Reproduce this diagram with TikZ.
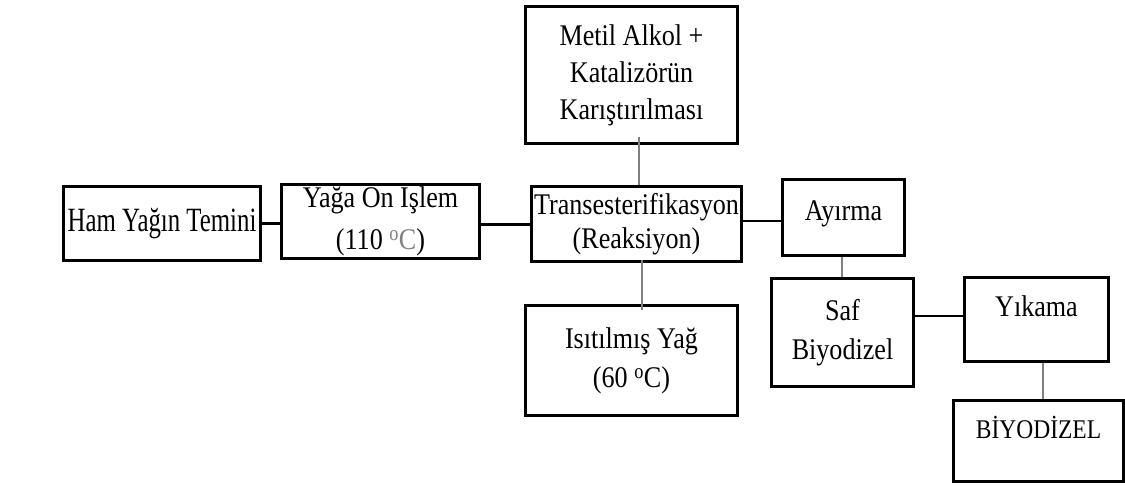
\documentclass[tikz,border=0pt]{standalone}
\usepackage{fontspec}
\setmainfont{Liberation Serif}[FakeStretch=0.87]
\newfontfamily\hamfont{Liberation Serif}[FakeStretch=0.73]
\definecolor{LineGray}{RGB}{128, 128, 128}
\usepackage{tikz}
\usetikzlibrary{positioning, calc}

\begin{document}
\begin{tikzpicture}[x=1pt, y=-1pt]
        \tikzstyle{process} = [rectangle, draw=black, line width=2.6pt, fill=white, align=center, inner sep=0pt, font=\fontsize{30}{37}\selectfont]
        \tikzstyle{thickline} = [line width=3pt, black]
        \tikzstyle{thinline} = [line width=1.2pt, black]
        \tikzstyle{grayline} = [line width=1.2pt, LineGray]

        \useasboundingbox (0,0) rectangle (1125,486);

        % Noduri
        \node (ham) [process, minimum width=197.4pt, minimum height=74.4pt, font=\hamfont\fontsize{34}{40}\selectfont] at (162,223.5) {Ham Yağın Temini};
        \node (yaga) [process, minimum width=198.4pt, minimum height=74.4pt] at (380.5,221.5) {Yağa On Işlem\\[5pt](110 {\color{LineGray}\textsuperscript{o}C})};
        \node (trans) [process, minimum width=210.4pt, minimum height=75.4pt] at (636.5,224) {Transesterifikasyon\\[-3pt](Reaksiyon)};
        \node (metil) [process, minimum width=212.4pt, minimum height=137.4pt] at (631.5,75) {Metil Alkol +\\Katalizörün\\Karıştırılması};
        \node (isit) [process, minimum width=212.4pt, minimum height=110.4pt] at (631.5,360.5) {Isıtılmış Yağ\\[2pt](60 \textsuperscript{o}C)};
        \node (ayirma) [process, minimum width=122.4pt, minimum height=76.4pt, text height=20pt, text depth=14pt] at (843.5,217.5) {Ayırma};
        \node (saf) [process, minimum width=142.4pt, minimum height=108.4pt] at (842.5,332.5) {Saf\\[2pt]Biyodizel};
        \node (yikama) [process, minimum width=144.4pt, minimum height=84.4pt, text height=20pt, text depth=25pt] at (1036.5,319.5) {Yıkama};
        \node (biyo) [process, minimum width=170.4pt, minimum height=81.4pt, text height=22pt, text depth=28pt, font=\fontsize{27}{32}\selectfont] at (1038.5,441) {BİYODİZEL};

        % Legături
        \draw [thickline] (ham.east) -- (ham.east -| yaga.west);
        \draw [thickline] ([yshift=-3pt]yaga.east) -- ([yshift=-3pt]yaga.east -| trans.west);
        \draw [grayline] ([xshift=7.5pt, yshift=8pt]metil.south) -- ([xshift=7.5pt]metil.south |- trans.north);
        \draw [grayline] ([xshift=5.5pt, yshift=3pt]trans.south) -- ([xshift=5.5pt, yshift=-6pt]trans.south |- isit.north);
        \draw [thinline] ([yshift=-3.5pt]ayirma.west) -- ([yshift=-3.5pt]ayirma.west -| trans.east);
        \draw [grayline] ([xshift=-1.5pt]ayirma.south) -- ([xshift=-1.5pt]ayirma.south |- saf.north);
        \draw [thinline] ([yshift=3.5pt]yikama.west) -- ([yshift=3.5pt]yikama.west -| saf.east);
        \draw [grayline] ([xshift=6.5pt]yikama.south) -- ([xshift=6.5pt]yikama.south |- biyo.north);
    \end{tikzpicture}
\end{document}
